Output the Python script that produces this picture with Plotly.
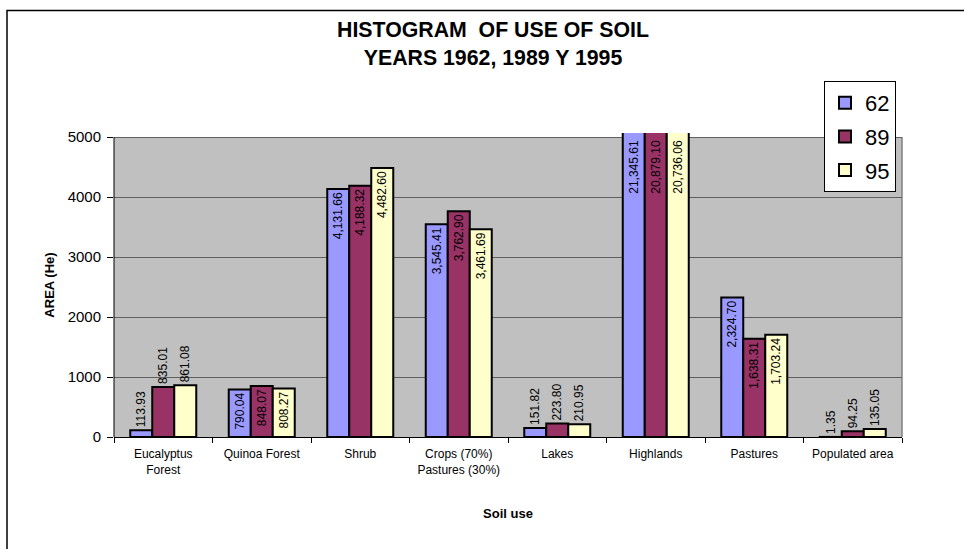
import plotly.graph_objects as go

# ---------------- data ----------------
categories = ["Eucalyptus<br>Forest", "Quinoa Forest", "Shrub",
              "Crops (70%)<br>Pastures (30%)", "Lakes", "Highlands",
              "Pastures", "Populated area"]
series_names = ["62", "89", "95"]
values_62 = [113.93, 790.04, 4131.66, 3545.41, 151.82, 21345.61, 2324.70, 1.35]
values_89 = [835.01, 848.07, 4188.32, 3762.90, 223.80, 20879.10, 1638.31, 94.25]
values_95 = [861.08, 808.27, 4482.60, 3461.69, 210.95, 20736.06, 1703.24, 135.05]
y_ticks = [0, 1000, 2000, 3000, 4000, 5000]

# ---------------- style ----------------
FONT = "Liberation Sans, Arial, sans-serif"
colors = ["#9999FF", "#993366", "#FFFFCC"]
W, H = 964, 549
L, R, T, B = 114, 62, 133, 112
PW, PH = W - L - R, H - T - B
Y_GRID_TOP = y_ticks[-1]
Y_TOP = Y_GRID_TOP * PH / 300.0  # bars overshoot the plot frame slightly
BARGAP = 0.33
outside_cats = {"Eucalyptus<br>Forest", "Lakes", "Populated area"}

def px_x(px):
    return (px - L) / PW

def px_y(py):
    return (T + PH - py) / PH

fig = go.Figure()
all_vals = [values_62, values_89, values_95]
for name, vals, col in zip(series_names, all_vals, colors):
    pos = []
    for c, v in zip(categories, vals):
        if v > Y_TOP:
            pos.append("none")
        elif c in outside_cats:
            pos.append("outside")
        else:
            pos.append("inside")
    fig.add_trace(go.Bar(
        name=name, x=categories, y=vals,
        marker=dict(color=col, line=dict(color="black", width=2)),
        texttemplate="%{y:,.2f}", textposition=pos, textangle=-90,
        insidetextanchor="end", constraintext="none",
        textfont=dict(family=FONT, size=12, color="black"),
        insidetextfont=dict(family=FONT, size=12, color="black"),
        outsidetextfont=dict(family=FONT, size=12, color="black"),
        cliponaxis=True, legendgroup=name,
    ))

# labels of bars clipped by the axis range
slot = PW / len(categories)
bar_w = slot * (1 - BARGAP) / len(series_names)
annotations = []
for i, vals in enumerate(all_vals):
    for c, v in zip(categories, vals):
        if v > Y_TOP:
            annotations.append(dict(
                x=c, y=Y_GRID_TOP, xref="x", yref="y",
                text=f"{v:,.2f}", showarrow=False, textangle=-90,
                xanchor="center", yanchor="top",
                xshift=(i - 1) * bar_w, yshift=-1,
                font=dict(family=FONT, size=12, color="black")))

shapes = [
    # grey plot area (frame stops at 5000)
    dict(type="rect", xref="paper", yref="y", x0=0, x1=1, y0=0, y1=Y_GRID_TOP,
         fillcolor="#C0C0C0", line=dict(width=0), layer="below"),
    # right frame
    dict(type="line", xref="paper", yref="y", x0=1, x1=1, y0=0, y1=Y_GRID_TOP,
         line=dict(color="#808080", width=1.5), layer="below"),
    # y axis line
    dict(type="line", xref="paper", yref="y", x0=0, x1=0, y0=0, y1=Y_GRID_TOP,
         line=dict(color="black", width=1), layer="above"),
    # chart border (left and top visible)
    dict(type="rect", xref="paper", yref="paper",
         x0=px_x(7), x1=px_x(W + 20), y0=px_y(H + 20), y1=px_y(10.5),
         line=dict(color="black", width=1.5), fillcolor="rgba(0,0,0,0)", layer="below"),
]

fig.update_layout(
    width=W, height=H,
    margin=dict(l=L, r=R, t=T, b=B, autoexpand=False),
    paper_bgcolor="white", plot_bgcolor="white",
    font=dict(family=FONT, color="black"),
    barmode="group", bargap=BARGAP, bargroupgap=0,
    title=dict(text="<b>HISTOGRAM\u00a0\u00a0OF USE OF SOIL<br>YEARS 1962, 1989 Y 1995</b>",
               x=493 / W, xanchor="center", xref="container",
               y=1 - 37 / H, yanchor="top", yref="container",
               font=dict(family=FONT, size=21.3, color="black")),
    legend=dict(x=px_x(824), y=px_y(81), xanchor="left", yanchor="top",
                bgcolor="white", bordercolor="black", borderwidth=1,
                font=dict(family=FONT, size=22, color="black"),
                traceorder="grouped", tracegroupgap=2),
    xaxis=dict(showline=True, linecolor="black", linewidth=1,
               ticks="outside", tickson="boundaries", ticklen=5, tickcolor="black",
               ticklabelstandoff=6,
               tickfont=dict(family=FONT, size=12, color="black"),
               title=dict(text="<b>Soil use</b>", standoff=32,
                          font=dict(family=FONT, size=13, color="black")),
               showgrid=False, fixedrange=True),
    yaxis=dict(range=[0, Y_TOP], tickvals=y_ticks, showline=False,
               ticks="outside", ticklen=6, tickcolor="black",
               ticklabelstandoff=3,
               tickfont=dict(family=FONT, size=15, color="black"),
               showgrid=True, gridcolor="#606060", gridwidth=1, zeroline=False,
               title=dict(text="<b>AREA (He)</b>", standoff=10,
                          font=dict(family=FONT, size=13, color="black"))),
    annotations=annotations, shapes=shapes, showlegend=True,
)

fig.write_html("out.html", config={"displayModeBar": False},
               post_script="document.body.style.margin='0';")
